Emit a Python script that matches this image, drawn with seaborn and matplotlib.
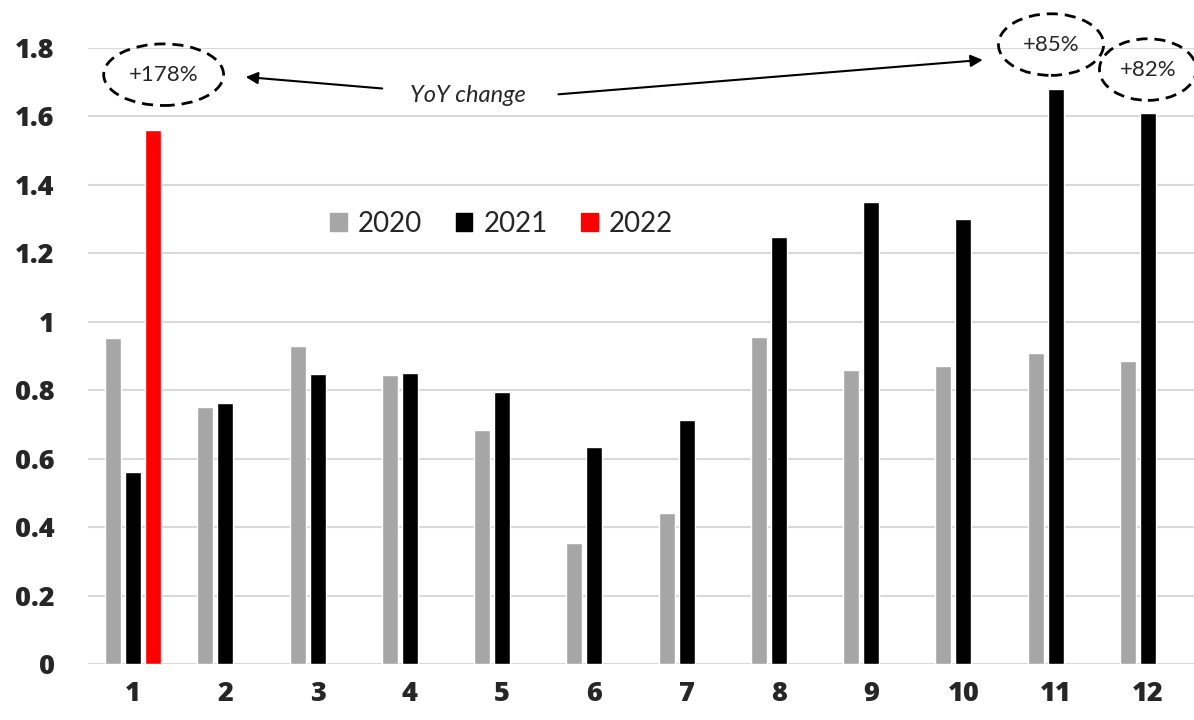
import pandas as pd
import matplotlib.pyplot as plt
import seaborn as sns
from matplotlib.patches import Ellipse

# values
months = [str(m) for m in range(1, 13)]
vals_2020 = [0.953, 0.75, 0.93, 0.845, 0.684, 0.354, 0.44, 0.956, 0.86, 0.871, 0.909, 0.886]
vals_2021 = [0.56, 0.763, 0.848, 0.85, 0.795, 0.635, 0.713, 1.248, 1.351, 1.30, 1.68, 1.61]
vals_2022 = [1.56]  # January only
years = ['2020', '2021', '2022']
colors = ['#a6a6a6', '#000000', '#ff0000']
y_ticks = [0, 0.2, 0.4, 0.6, 0.8, 1.0, 1.2, 1.4, 1.6, 1.8]
y_labels = ['0', '0.2', '0.4', '0.6', '0.8', '1', '1.2', '1.4', '1.6', '1.8']

rows = []
for m, v in zip(months, vals_2020):
    rows.append({'month': m, 'year': '2020', 'value': v})
for m, v in zip(months, vals_2021):
    rows.append({'month': m, 'year': '2021', 'value': v})
for m, v in zip(months, vals_2022):
    rows.append({'month': m, 'year': '2022', 'value': v})
df = pd.DataFrame(rows)

sns.set_theme(style="white")
plt.rcParams['font.family'] = ['Lato', 'DejaVu Sans']

fig = plt.figure(figsize=(11.94, 7.2), dpi=100)
ax = fig.add_axes([88 / 1194, 56 / 720, 1106 / 1194, 616 / 720])

sns.barplot(data=df, x='month', y='value', hue='year', order=months,
            hue_order=years, palette=colors, width=0.65, gap=0.2,
            saturation=1, ax=ax, legend=False)

ax.set_xlim(-0.49, 11.5)
ax.set_ylim(0, 1.8)
ax.set_yticks(y_ticks)
ax.set_yticklabels(y_labels)
ax.yaxis.grid(True, color='#d9d9d9', linewidth=1.5)
ax.set_axisbelow(True)
for s in ax.spines.values():
    s.set_visible(False)
ax.set_xlabel('')
ax.set_ylabel('')
ax.tick_params(axis='y', length=0, pad=24)
ax.tick_params(axis='x', length=0, pad=12)
for lbl in ax.get_xticklabels() + ax.get_yticklabels():
    lbl.set_fontfamily(['Open Sans', 'DejaVu Sans'])
    lbl.set_fontweight('heavy')
    lbl.set_fontsize(19.5)

# legend
handles = [plt.Rectangle((0, 0), 1, 1, color=c) for c in colors]
ax.legend(handles, years, ncol=3, frameon=False, loc='center',
          bbox_to_anchor=(0.374, 0.715), fontsize=20, handlelength=0.6,
          handleheight=0.6, handletextpad=0.4, columnspacing=1.2)

# YoY change annotations
ellipses = [(0.33, 1.722, 1.3, 0.18, '+178%'),
            (9.95, 1.81, 1.14, 0.18, '+85%'),
            (11.0, 1.737, 1.05, 0.18, '+82%')]
for x, y, w, h, t in ellipses:
    ax.add_patch(Ellipse((x, y), w, h, fill=False, edgecolor='black',
                         linestyle=(0, (4, 2.5)), linewidth=2, clip_on=False))
    ax.text(x, y, t, ha='center', va='center', fontsize=16, clip_on=False)

ax.text(3.63, 1.66, 'YoY change', ha='center', va='center', fontsize=17,
        style='italic')
ax.annotate('', xy=(1.19, 1.716), xytext=(2.73, 1.681),
            arrowprops=dict(arrowstyle='-|>', color='black', lw=1.5,
                            mutation_scale=18), annotation_clip=False)
ax.annotate('', xy=(9.24, 1.766), xytext=(4.58, 1.664),
            arrowprops=dict(arrowstyle='-|>', color='black', lw=1.5,
                            mutation_scale=18), annotation_clip=False)

fig.savefig('out.png', dpi=100)
